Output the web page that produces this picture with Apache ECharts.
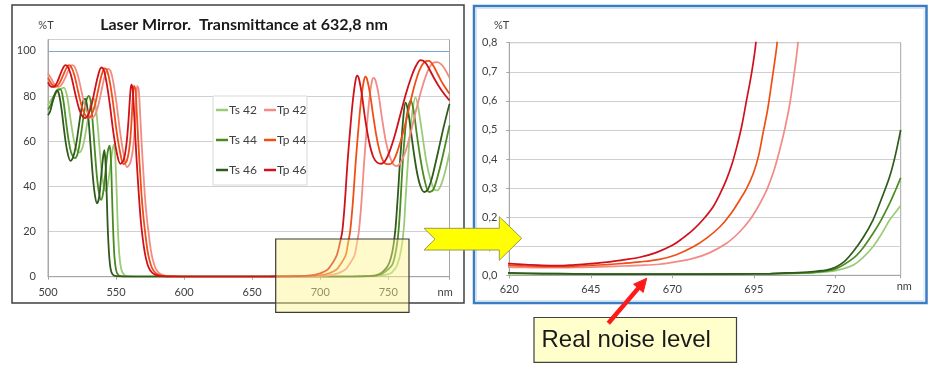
<!DOCTYPE html>
<html><head><meta charset="utf-8">
<script src="https://cdn.jsdelivr.net/npm/echarts/dist/echarts.min.js"></script>
<style>html,body{margin:0;padding:0;background:#fff}#c{width:934px;height:372px}</style>
</head><body><div id="c"></div>
<script>
// ---- data: [wavelength nm, transmittance %T] ----
const Ts42 = [[500,76],[502,78],[505,80.5],[508,82.5],[511.5,83.7],[514,80],[516,72],[518,64],[520,58],[523,55],[525.5,57.5],[528,65],[530,72.5],[532,78],[533.5,79],[535,75.5],[536.5,67],[538,56],[539.5,46],[541,40],[542.5,38],[544,41],[546,50],[547.5,56.5],[548.5,58.5],[549.5,52],[550.4,38],[551.3,22],[552.5,9],[554,3],[556,0.8],[559,0.2],[565,0.03],[580,0.01],[600,0.008],[620,0.006],[640,0.004],[660,0.004],[680,0.004],[700,0.005],[710,0.007],[715,0.01],[720,0.016],[725.4,0.035],[728.5,0.062],[731.5,0.098],[734,0.14],[736.6,0.19],[738.3,0.215],[740,0.24],[745,0.6],[749,1.0],[751.8,1.5],[754,2.8],[756.6,5.2],[759.5,12],[761.5,22],[762.5,32],[763.5,42],[764.5,51],[765.5,60],[767.5,72],[770,79.4],[772,75],[775,63],[778,51],[781,43],[784,38.5],[786,38.2],[789,41],[792,47],[795,55]];
const Ts44 = [[500,74],[502,76],[504,79.5],[506.5,82.5],[509,83],[511,79],[513,70],[515,61],[517,55],[519.8,52.5],[522,55],[524,62],[526,70.5],[528,77.5],[530,80],[531.5,77],[533,67],[534.5,55],[536,44],[537.5,37],[539,34],[540.5,37],[542,45],[543.8,55],[545.3,58],[546.2,52],[547,37],[547.8,22],[548.8,9],[550,3],[551.5,0.8],[554,0.2],[560,0.04],[570,0.015],[600,0.009],[620,0.007],[640,0.005],[660,0.004],[680,0.004],[700,0.005],[710,0.008],[715,0.012],[720,0.022],[725.4,0.058],[728.5,0.095],[731.5,0.144],[734,0.19],[736.6,0.247],[738.3,0.29],[740,0.335],[742.5,0.6],[745,1.1],[749,2.8],[752.9,5.2],[755.5,11],[757,17],[757.8,22],[758.8,31],[759.8,42],[760.8,52],[761.8,60],[763.8,72],[766.4,78],[768.5,74],[771,63],[774,51],[777,42],[780,37.5],[783,38.5],[787,46],[791,56],[795,67]];
const Ts46 = [[500,71.5],[501.5,73],[503,76.5],[505,80.5],[506.6,82.4],[508,81],[510,74],[512,64],[514,56],[516.5,51.3],[518.5,53],[520.5,58],[522.5,66],[524.5,74],[526,78],[527.4,78.7],[528.6,76],[530,68],[531.5,56],[533,44],[534.5,36],[536,32.5],[537.5,35],[539,44],[540.5,53],[541.4,56],[542.3,50],[543.2,35],[544,20],[545,9],[546,3.5],[547.5,1],[550,0.25],[555,0.05],[565,0.02],[580,0.012],[600,0.01],[620,0.008],[630,0.006],[640,0.005],[650,0.004],[670,0.004],[690,0.005],[700,0.006],[705,0.008],[710,0.01],[714,0.014],[717.2,0.018],[720,0.028],[722.5,0.045],[725.4,0.081],[728.5,0.13],[731.5,0.19],[734,0.26],[736.6,0.339],[738.3,0.41],[740,0.5],[742,0.8],[744.5,1.5],[747,2.8],[749,4.2],[751,6.5],[753,11],[754.3,16],[755.4,22],[756.5,31],[757.5,40],[758.5,50],[759.5,58],[761,70],[762.7,77],[764.5,73.5],[766.5,65],[769,54],[771.5,45],[774,39.5],[776.5,37.5],[779,38.5],[782,43.5],[785,51],[788,59],[791,67],[795,76.5]];
const Tp42 = [[500,90],[502.5,87.5],[505,85],[508,84],[510.5,85.5],[513,88.5],[515.5,92],[517.6,93.7],[519.5,93],[522,89],[525,81],[528,74],[530.5,71],[532.4,70.3],[534.5,71.5],[537,76],[539.5,83],[542,89.5],[544.1,92],[546,91],[548,86],[550.5,76],[553,64],[555.5,54.5],[558.1,48.5],[560.5,50.5],[562.5,57],[563.8,67],[564.8,78],[565.6,84.5],[566.6,83],[567.7,72],[568.9,58],[570.2,45],[571.4,34],[572.6,26],[573.8,20],[575.5,12],[577,7.5],[579,3.8],[581.5,1.7],[585,0.6],[590,0.2],[595,0.08],[605,0.04],[620,0.028],[625,0.027],[630,0.026],[635,0.026],[640,0.027],[645,0.028],[650,0.03],[655,0.032],[660,0.034],[666,0.038],[671,0.046],[676.4,0.058],[681.5,0.078],[686.6,0.11],[690.5,0.148],[693.7,0.19],[696.5,0.24],[698.9,0.293],[701,0.355],[702.9,0.431],[704.6,0.51],[706,0.59],[707.3,0.69],[708.5,0.8],[711,1.15],[713,1.5],[716,2.3],[719,3.5],[722,6],[724,8],[725.5,10],[727,15],[728.4,20],[730.3,33],[732.2,50],[734.1,65],[736,78],[738,86.5],[739.4,88],[740.8,86.5],[742.8,81],[745.2,71],[748.2,60],[751.2,53],[754,49.5],[756.5,49],[759.5,51],[763,56],[767,65],[771,75],[775,84],[779,91],[782.5,94.5],[786,95],[789,94],[792,91.5],[795,88]];
const Tp44 = [[500,88],[503,85],[505.5,84],[508,85.3],[511,89],[513.5,92.3],[515.2,93.7],[517,93],[519.5,89],[522.5,81],[525.5,74],[528,71],[529.9,70.3],[532,71.5],[534.5,76],[537,83],[539.5,89.5],[541.6,92.2],[543.5,91],[545.5,86],[548,76],[550.5,64],[553,55],[555.6,49.8],[558,51.5],[560,58],[561.3,68],[562.3,79],[563.2,84.5],[564.2,83],[565.3,72],[566.5,58],[567.8,45],[569,34],[570.2,26],[571.3,20],[573,12],[574.5,7.5],[576.5,3.8],[579,1.7],[582.5,0.6],[587,0.2],[592,0.08],[600,0.05],[610,0.04],[620,0.034],[625,0.032],[630,0.03],[635,0.03],[640,0.031],[645,0.034],[650,0.037],[655,0.041],[660,0.046],[666,0.055],[671,0.07],[676.4,0.098],[680.5,0.128],[684.6,0.167],[687.8,0.21],[690.7,0.26],[692.8,0.3],[694.8,0.35],[696.4,0.41],[697.8,0.49],[699.2,0.57],[700.4,0.66],[701.3,0.73],[702.1,0.8],[704.5,1.15],[706.5,1.5],[709.5,2.3],[712.5,3.5],[715.5,6],[717.5,8],[719,10],[720.5,15],[722,20],[724,33],[726,50],[728,65],[730,78],[732,86.5],[733.3,88.5],[734.6,87],[736.6,81],[739,71],[742,60],[745,53],[748,50],[751,49.8],[754,51.5],[757,56],[761,64],[765,74],[769,84],[773,91.5],[776.5,95],[779.9,95.5],[783,93.5],[786.5,89.5],[790,85.5],[795,81]];
const Tp46 = [[500,86],[502,84.2],[504,84],[506.5,85.8],[509,89.5],[511,92.3],[512.7,93.7],[514.5,93],[517,89],[520,81],[523,74],[525.5,70.8],[527.4,70.2],[529.5,71.5],[532,76],[534.5,83],[537,89.5],[539.2,92.6],[541,91.5],[543,86],[545.5,76],[548,64],[550.5,55],[553.2,50],[555.5,51.5],[557.5,58],[559,68],[560.2,79],[561.2,85],[562.2,83],[563.3,72],[564.5,58],[565.8,45],[567,34],[568,26],[569,20],[570.5,13],[572,8],[574,4],[576.5,1.8],[580,0.6],[585,0.2],[590,0.08],[600,0.05],[610,0.045],[620,0.04],[625,0.037],[630,0.034],[635,0.033],[640,0.036],[645,0.04],[650,0.045],[655,0.053],[660,0.062],[665,0.078],[670,0.103],[673,0.126],[676.4,0.157],[679.5,0.193],[682.5,0.236],[684.6,0.28],[686.6,0.33],[688.2,0.38],[689.7,0.44],[691.2,0.51],[692.7,0.6],[694.2,0.69],[695.6,0.8],[698,1.15],[700,1.5],[703,2.3],[706,3.5],[709,6],[711,8],[712.5,10],[714.5,15],[716.2,20],[718,32],[720,50],[722,65],[724,78],[726,87],[727.2,89],[728.5,87.5],[730.5,81],[733,70],[736,59.5],[739,53],[742,50.5],[745,50],[748,51.5],[751,55.5],[755,63],[759,72],[763,81],[767,88.5],[770.5,93.5],[773.8,95.9],[777,95],[780.5,91.5],[784,87.5],[787.5,84],[791,81],[795,78]];

const tsNames = ['Ts 42','Ts 44','Ts 46'];
const tpNames = ['Tp 42','Tp 44','Tp 46'];
const seriesData = {'Ts 42':Ts42,'Ts 44':Ts44,'Ts 46':Ts46,'Tp 42':Tp42,'Tp 44':Tp44,'Tp 46':Tp46};

const titleText = 'Laser Mirror.  Transmittance at 632,8 nm';
const noteText = 'Real noise level';
const fullRefLevel = 100;
const zoomMin = 620, zoomMax = 740;

// ---- styles ----
const colors = {'Ts 42':'#9ccb78','Ts 44':'#4a8a22','Ts 46':'#2e5a1c','Tp 42':'#f28b85','Tp 44':'#f04e14','Tp 46':'#d0101a'};
const FONT = 'Lato';
const labelColor = '#404040';

const chart = echarts.init(document.getElementById('c'), null, {renderer:'canvas'});

function mk(name, gi, w){
  let d = seriesData[name];
  if (gi === 1) d = d.filter(p => p[0] <= zoomMax);
  return {
    name, type:'line', xAxisIndex:gi, yAxisIndex:gi, data:d,
    symbol:'none', showSymbol:false, smooth:0.35, clip:true,
    lineStyle:{color:colors[name], width:w}, itemStyle:{color:colors[name]},
    emphasis:{disabled:true}, silent:true
  };
}
const series = [];
[...tsNames, ...tpNames].forEach(n => series.push(mk(n,0,1.8)));
[...tsNames, ...tpNames].forEach(n => series.push(mk(n,1,1.7)));
series[0].markLine = {silent:true, symbol:'none', label:{show:false}, animation:false,
  lineStyle:{color:'#7fa7cf', width:1, type:'solid'}, data:[{yAxis:fullRefLevel}]};

const axisLabelStyle = {color:labelColor, fontFamily:FONT, fontSize:11};
const legendText = {fontFamily:FONT, fontSize:12, color:labelColor, lineHeight:14, padding:[0,0,0,-4]};

const option = {
  animation:false,
  backgroundColor:'#ffffff',
  title:{text:titleText, left:239, top:12, textAlign:'center',
    textStyle:{fontFamily:FONT, fontWeight:'bold', fontSize:16, color:'#1a1a1a'}},
  legend:[
    {data:tsNames, orient:'vertical', left:216, top:103, itemWidth:12, itemHeight:2.5, itemGap:16,
     icon:'rect', padding:0, textStyle:legendText, selectedMode:false},
    {data:tpNames, orient:'vertical', left:264, top:103, itemWidth:12, itemHeight:2.5, itemGap:16,
     icon:'rect', padding:0, textStyle:legendText, selectedMode:false}
  ],
  grid:[
    {left:48, top:39.5, width:401.5, height:237.2, show:true, borderColor:'#a6a6a6', borderWidth:1, backgroundColor:'transparent', outerBoundsMode:'none', containLabel:false},
    {left:509.3, top:42.7, width:391.4, height:232.6, show:true, borderColor:'#a6a6a6', borderWidth:1, backgroundColor:'transparent', outerBoundsMode:'none', containLabel:false}
  ],
  xAxis:[
    {type:'value', gridIndex:0, min:500, max:795, interval:50,
     name:'nm', nameLocation:'end', nameGap:-12,
     nameTextStyle:{fontFamily:FONT, fontSize:11, color:labelColor, verticalAlign:'top', padding:[10,0,0,0]},
     axisLine:{show:true, lineStyle:{color:'#a6a6a6', width:1}},
     axisTick:{show:true, length:3, lineStyle:{color:'#a6a6a6'}},
     axisLabel:{...axisLabelStyle, margin:10, formatter:v => (v % 50 === 0 ? String(v) : '')},
     splitLine:{show:false}},
    {type:'value', gridIndex:1, min:zoomMin, max:zoomMax, interval:25,
     name:'nm', nameLocation:'end', nameGap:-4,
     nameTextStyle:{fontFamily:FONT, fontSize:11, color:labelColor, verticalAlign:'top', padding:[6,0,0,0]},
     axisLine:{show:true, lineStyle:{color:'#a6a6a6', width:1}},
     axisTick:{show:true, length:3, lineStyle:{color:'#a6a6a6'}},
     axisLabel:{...axisLabelStyle, margin:9, formatter:v => ((v-zoomMin) % 25 === 0 ? String(v) : '')},
     splitLine:{show:false}}
  ],
  yAxis:[
    {type:'value', gridIndex:0, min:0, max:105, interval:20,
     name:'%T', nameLocation:'end', nameGap:9,
     nameTextStyle:{fontFamily:FONT, fontSize:11, color:labelColor, padding:[0,4,0,0]},
     axisLine:{show:true, lineStyle:{color:'#a6a6a6', width:1}},
     axisTick:{show:false},
     axisLabel:{...axisLabelStyle, margin:12, formatter:v => (v % 20 === 0 ? String(v) : '')},
     splitLine:{show:true, lineStyle:{color:'#cfcfcf', width:1}}},
    {type:'value', gridIndex:1, min:0, max:0.8, interval:0.1,
     name:'%T', nameLocation:'end', nameGap:12,
     nameTextStyle:{fontFamily:FONT, fontSize:11, color:labelColor, align:'right', padding:[0,0,0,0]},
     axisLine:{show:true, lineStyle:{color:'#a6a6a6', width:1}},
     axisTick:{show:true, length:3, lineStyle:{color:'#a6a6a6'}},
     axisLabel:{...axisLabelStyle, margin:12, formatter:v => v.toFixed(1).replace('.',',')},
     splitLine:{show:true, lineStyle:{color:'#cfcfcf', width:1}}}
  ],
  series,
  graphic:{elements:[
    {type:'rect', z:1, silent:true, shape:{x:12, y:5, width:452, height:298},
     style:{fill:'none', stroke:'#404040', lineWidth:1.5}},
    {type:'rect', z:1, silent:true, shape:{x:474, y:6, width:452.5, height:297},
     style:{fill:'none', stroke:'#3b7dc4', lineWidth:2.5}},
    {type:'rect', z:1, silent:true, shape:{x:476.5, y:8.5, width:447.5, height:292},
     style:{fill:'none', stroke:'#d6e4f2', lineWidth:1}},
    {type:'rect', z:3, silent:true, shape:{x:213, y:96, width:94, height:89},
     style:{fill:'#ffffff', stroke:'#d9d9d9', lineWidth:1}},
    {type:'rect', z:20, silent:true, shape:{x:275.7, y:239, width:133.3, height:73.3},
     style:{fill:'rgba(252,245,140,0.45)', stroke:'#3a3a3a', lineWidth:1.2}},
    {type:'polygon', z:21, silent:true,
     shape:{points:[[424,228.3],[499.3,228.3],[499.3,216.7],[521.7,238.3],[499.3,260.3],[499.3,250],[424,250],[435,239.2]]},
     style:{fill:'#ffff00', stroke:'#9a9a50', lineWidth:1}},
    {type:'rect', z:20, silent:true, shape:{x:534, y:317.5, width:202.5, height:44.8},
     style:{fill:'#ffffcc', stroke:'#404040', lineWidth:1.2}},
    {type:'text', z:21, silent:true, x:541.5, y:340,
     style:{text:noteText, fontFamily:'Liberation Sans', fontSize:24, fill:'#1a1a1a', textVerticalAlign:'middle', verticalAlign:'middle'}},
    {type:'line', z:22, silent:true, shape:{x1:608.3, y1:323.3, x2:639, y2:287.4},
     style:{stroke:'#ff1a1a', lineWidth:4.5}},
    {type:'polygon', z:22, silent:true, shape:{points:[[646.7,278.3],[643.2,292.4],[633.6,284.2]]},
     style:{fill:'#ff1a1a', stroke:'#ff1a1a', lineWidth:1}}
  ]}
};
chart.setOption(option);
</script></body></html>
